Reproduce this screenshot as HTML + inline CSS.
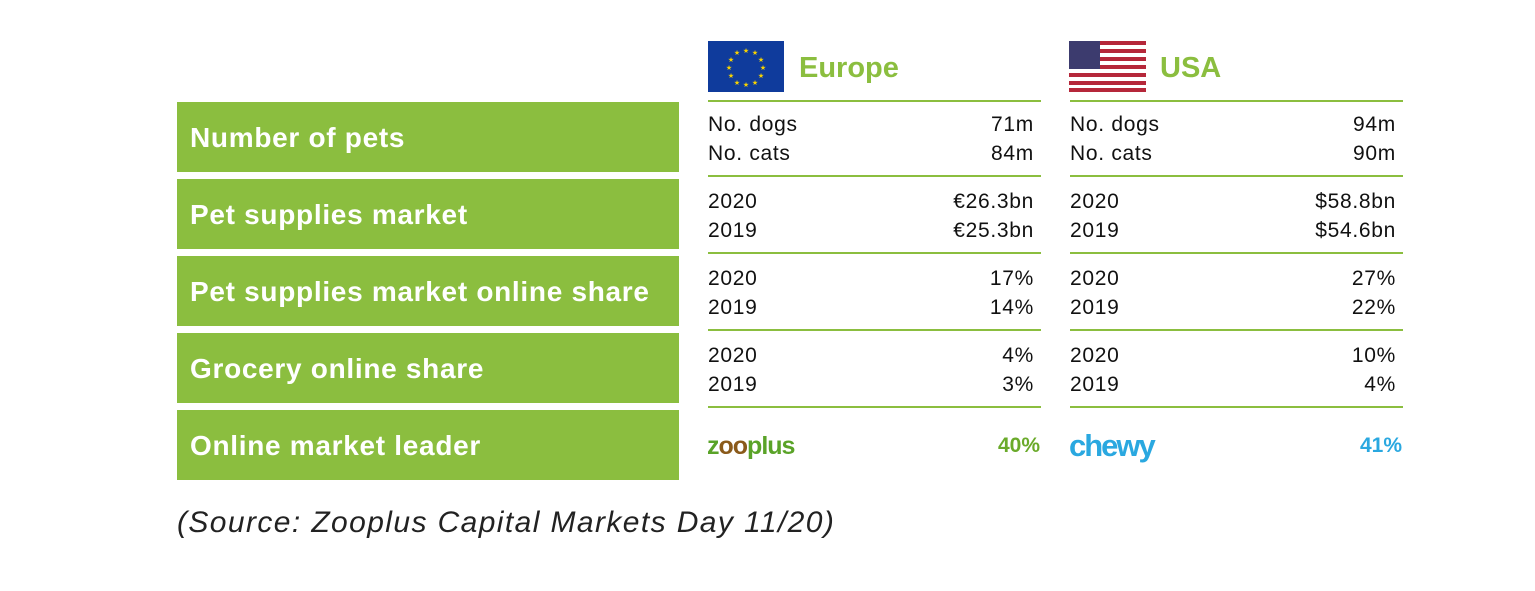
<!DOCTYPE html>
<html><head><style>
body{margin:0;width:1535px;height:591px;background:#fff;font-family:"Liberation Sans",sans-serif;position:relative;overflow:hidden}
.a{position:absolute}
.box{position:absolute;left:177px;width:502px;height:70px;background:#8bbe3f;color:#fff;font-weight:bold;font-size:28px;letter-spacing:0.7px;line-height:72px;padding-left:13px;box-sizing:border-box}
.ln{position:absolute;height:2px;background:#8bbe3f;width:333px}
.t{position:absolute;font-size:21px;color:#111;line-height:24px;letter-spacing:0.7px}
.t span{line-height:34px}
.r{text-align:right;width:130px}
</style></head><body>
<div class="box" style="top:102px">Number of pets</div>
<div class="box" style="top:179px">Pet supplies market</div>
<div class="box" style="top:256px">Pet supplies market online share</div>
<div class="box" style="top:333px">Grocery online share</div>
<div class="box" style="top:410px">Online market leader</div>

<svg class="a" style="left:708px;top:41px" width="76" height="51" viewBox="0 0 76 51">
<rect width="76" height="51" fill="#0f3b9c"/>
<g fill="#f7d200" font-size="7" text-anchor="middle">
<text x="38" y="12">★</text><text x="38" y="46">★</text><text x="21" y="29">★</text><text x="55" y="29">★</text>
<text x="29" y="14">★</text><text x="47" y="14">★</text><text x="29" y="44">★</text><text x="47" y="44">★</text>
<text x="23" y="21">★</text><text x="53" y="21">★</text><text x="23" y="37">★</text><text x="53" y="37">★</text></g></svg>
<div class="a" style="left:799px;top:52px;font-size:29px;font-weight:bold;color:#8bbe3f">Europe</div>
<svg class="a" style="left:1069px;top:41px" width="77" height="51" viewBox="0 0 77 51">
<rect width="77" height="51" fill="#fff"/>
<g fill="#b5273a"><rect y="0" width="77" height="4"/><rect y="8" width="77" height="4"/><rect y="16" width="77" height="4"/><rect y="24" width="77" height="4"/><rect y="32" width="77" height="4"/><rect y="40" width="77" height="4"/><rect y="47" width="77" height="4"/></g>
<rect width="31" height="28" fill="#3c3b6e"/></svg>
<div class="a" style="left:1160px;top:52px;font-size:29px;font-weight:bold;color:#8bbe3f">USA</div>

<div class="ln" style="left:708px;top:100px"></div><div class="ln" style="left:1070px;top:100px"></div>
<div class="ln" style="left:708px;top:175px"></div><div class="ln" style="left:1070px;top:175px"></div>
<div class="ln" style="left:708px;top:252px"></div><div class="ln" style="left:1070px;top:252px"></div>
<div class="ln" style="left:708px;top:329px"></div><div class="ln" style="left:1070px;top:329px"></div>
<div class="ln" style="left:708px;top:406px"></div><div class="ln" style="left:1070px;top:406px"></div>

<div class="t" style="left:708px;top:113px">No. dogs<br><span>No. cats</span></div>
<div class="t r" style="left:904px;top:113px">71m<br><span>84m</span></div>
<div class="t" style="left:1070px;top:113px">No. dogs<br><span>No. cats</span></div>
<div class="t r" style="left:1266px;top:113px">94m<br><span>90m</span></div>

<div class="t" style="left:708px;top:190px">2020<br><span>2019</span></div>
<div class="t r" style="left:904px;top:190px">€26.3bn<br><span>€25.3bn</span></div>
<div class="t" style="left:1070px;top:190px">2020<br><span>2019</span></div>
<div class="t r" style="left:1266px;top:190px">$58.8bn<br><span>$54.6bn</span></div>

<div class="t" style="left:708px;top:267px">2020<br><span>2019</span></div>
<div class="t r" style="left:904px;top:267px">17%<br><span>14%</span></div>
<div class="t" style="left:1070px;top:267px">2020<br><span>2019</span></div>
<div class="t r" style="left:1266px;top:267px">27%<br><span>22%</span></div>

<div class="t" style="left:708px;top:344px">2020<br><span>2019</span></div>
<div class="t r" style="left:904px;top:344px">4%<br><span>3%</span></div>
<div class="t" style="left:1070px;top:344px">2020<br><span>2019</span></div>
<div class="t r" style="left:1266px;top:344px">10%<br><span>4%</span></div>

<div class="a" style="left:707px;top:432px;font-size:25px;font-weight:bold;color:#5aa328;letter-spacing:-1px">z<span style="color:#8a5a1a">oo</span>plus</div>
<div class="a" style="left:980px;top:434px;width:60px;text-align:right;font-size:21px;font-weight:bold;color:#6aaa2a">40%</div>
<div class="a" style="left:1069px;top:428px;font-size:31px;font-weight:bold;color:#2aa8e0;letter-spacing:-2px">chewy</div>
<div class="a" style="left:1342px;top:434px;width:60px;text-align:right;font-size:21px;font-weight:bold;color:#2aa8e0">41%</div>

<div class="a" style="left:177px;top:506px;font-size:30px;letter-spacing:1.4px;font-style:italic;color:#222">(Source: Zooplus Capital Markets Day 11/20)</div>
</body></html>
